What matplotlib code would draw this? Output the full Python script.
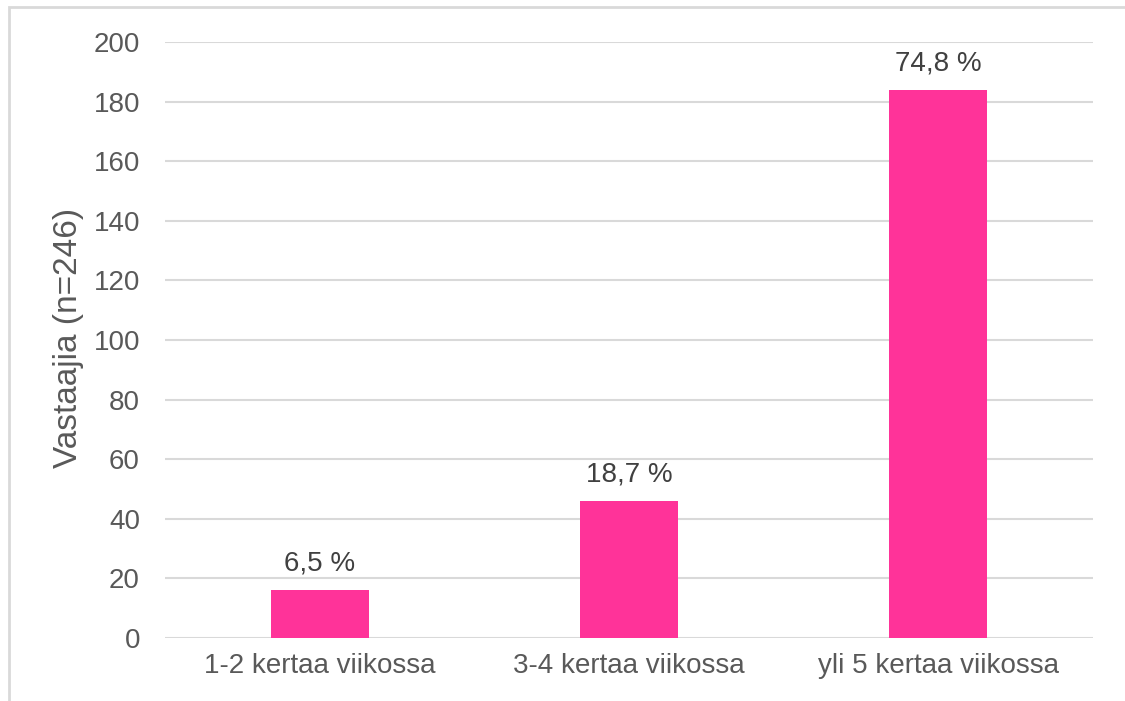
import matplotlib.pyplot as plt
from matplotlib.patches import Rectangle

plt.rcParams['font.family'] = ['Liberation Sans', 'DejaVu Sans']

# data
categories = ['1-2 kertaa viikossa', '3-4 kertaa viikossa', 'yli 5 kertaa viikossa']
counts = [16, 46, 184]
percent_labels = ['6,5 %', '18,7 %', '74,8 %']

fig = plt.figure(figsize=(11.25, 7.01), dpi=100)
ax = fig.add_axes([165 / 1125, 1 - 638 / 701, (1093 - 165) / 1125, (638 - 42) / 701])

# outer frame of the chart area
fig.patches.append(Rectangle((9 / 1125, -0.1), 1.2, 1 - 7 / 701 + 0.1,
                             transform=fig.transFigure, fill=False,
                             edgecolor='#d9d9d9', linewidth=2))

x = range(len(categories))
bars = ax.bar(x, counts, width=0.317, color='#ff3399', zorder=3)

for rect, lab in zip(bars, percent_labels):
    ax.annotate(lab, (rect.get_x() + rect.get_width() / 2, rect.get_height()),
                xytext=(0, 14), textcoords='offset points',
                ha='center', va='baseline', fontsize=20, color='#404040')

ax.set_xlim(-0.5, 2.5)
ax.set_ylim(0, 200)
ax.set_yticks(range(0, 201, 20))
ax.set_xticks(list(x))
ax.set_xticklabels(categories)
ax.grid(axis='y', color='#d9d9d9', linewidth=1.5, zorder=0)
for s in ax.spines.values():
    s.set_visible(False)
ax.tick_params(axis='both', length=0, labelsize=20, labelcolor='#595959')
ax.tick_params(axis='y', pad=18)
ax.tick_params(axis='x', pad=11)
ax.set_ylabel('Vastaajia (n=246)', fontsize=24, color='#595959', va='center')
ax.yaxis.set_label_coords(-0.1045, 0.503)

fig.savefig('out.png', dpi=100)
